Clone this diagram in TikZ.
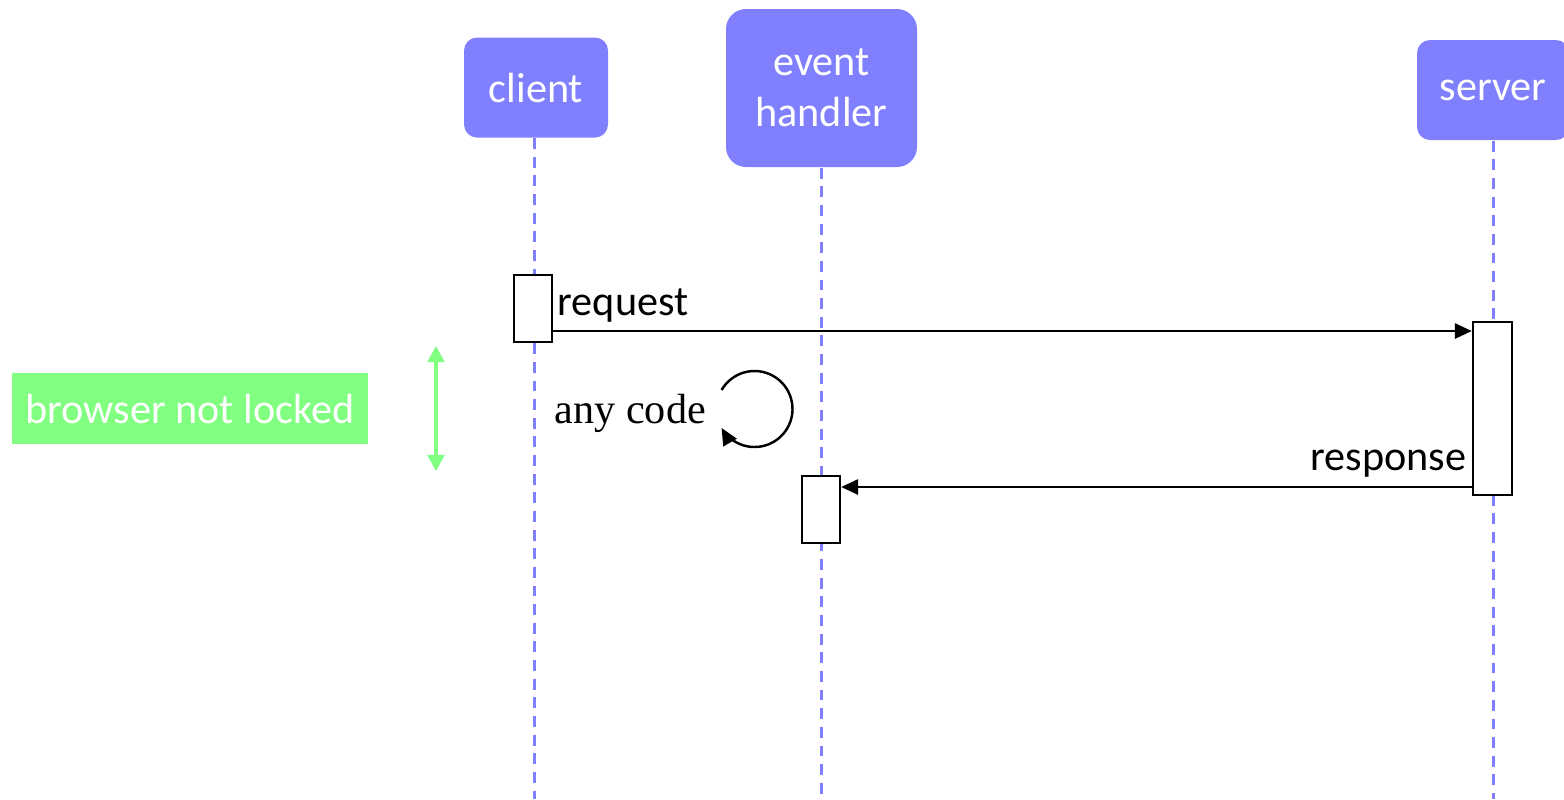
\documentclass[tikz,border=0pt]{standalone}
\usepackage{fontspec}
\setmainfont{Carlito}
\newfontfamily\serifcode{Liberation Serif}
\usetikzlibrary{arrows.meta,calc}
\definecolor{actor}{HTML}{8080FF}
\definecolor{note}{HTML}{80FF80}
\newlength{\px}
\setlength{\px}{0.01cm}
\tikzset{
  actorbox/.style={fill=actor, text=white, rounded corners=13\px, inner sep=0pt,
    align=center, font=\fontsize{12}{14.4}\selectfont},
  lifeline/.style={draw=actor, line width=0.85pt, dash pattern=on 3.1pt off 2.2pt},
  activation/.style={draw=black, fill=white, line width=0.7pt, inner sep=0pt},
  msg/.style={draw=black, line width=0.7pt, -{Triangle[length=4.8pt,width=4.3pt]}},
  msglabel/.style={font=\fontsize{12}{14.4}\selectfont, inner sep=0pt},
  notebox/.style={fill=note, text=white, inner sep=0pt, font=\fontsize{12}{14.4}\selectfont},
  span/.style={draw=note, line width=0.9pt, {Triangle[length=4.6pt,width=4.8pt]}-{Triangle[length=4.6pt,width=4.8pt]}}
}
\begin{document}
\begin{tikzpicture}[x=0.01cm, y=-0.01cm]
  \useasboundingbox (0,0) rectangle (1564,799);
  \clip (0,0) rectangle (1564,799);

  % participants
  \node[actorbox, minimum width=144\px, minimum height=100\px] (client) at (536,87.5) {client};
  \node[actorbox, rounded corners=20\px, minimum width=191\px, minimum height=158\px] (handler) at (821.5,88) {event\\handler};
  \node[actorbox, minimum width=152\px, minimum height=100\px] (server) at (1493,90) {server};

  % lifelines
  \coordinate (clientend) at (534,799);
  \coordinate (handlerend) at (821,799);
  \coordinate (serverend) at (1493,799);
  \draw[lifeline] (client.south -| clientend) -- (clientend);
  \draw[lifeline] (handler.south -| handlerend) -- (handlerend);
  \draw[lifeline] (server.south -| serverend) -- (serverend);

  % activations
  \node[activation, minimum width=38\px, minimum height=67\px] (cact) at (533,308.5) {};
  \node[activation, minimum width=39\px, minimum height=173\px] (sact) at (1492.5,408.5) {};
  \node[activation, minimum width=38\px, minimum height=67\px] (hact) at (821,509.5) {};

  % messages
  \coordinate (reqrow) at (0,331);
  \coordinate (resrow) at (0,487);
  \draw[msg] (cact.east |- reqrow) -- (sact.west |- reqrow);
  \node[msglabel, anchor=base west] (reqlabel) at (557,315) {request};
  \draw[msg] (sact.west |- resrow) -- (hact.east |- resrow);
  \node[msglabel, anchor=base east] (reslabel) at (1467,470) {response};

  % self loop
  \node[inner sep=0pt, anchor=base west, font=\serifcode\fontsize{12}{14.4}\selectfont] (anycode) at (554,423) {any code};
  \coordinate (loopc) at (754.5,409);
  \draw[msg] ($(loopc)+(-150:38)$) arc[start angle=-150, end angle=150, radius=38];

  % browser state
  \node[notebox, minimum width=356\px, minimum height=71\px] (lock) at (190,408.5) {browser not locked};
  \coordinate (spantop) at (436,346);
  \coordinate (spanbot) at (436,471);
  \draw[span] (spantop) -- (spanbot);
\end{tikzpicture}
\end{document}
